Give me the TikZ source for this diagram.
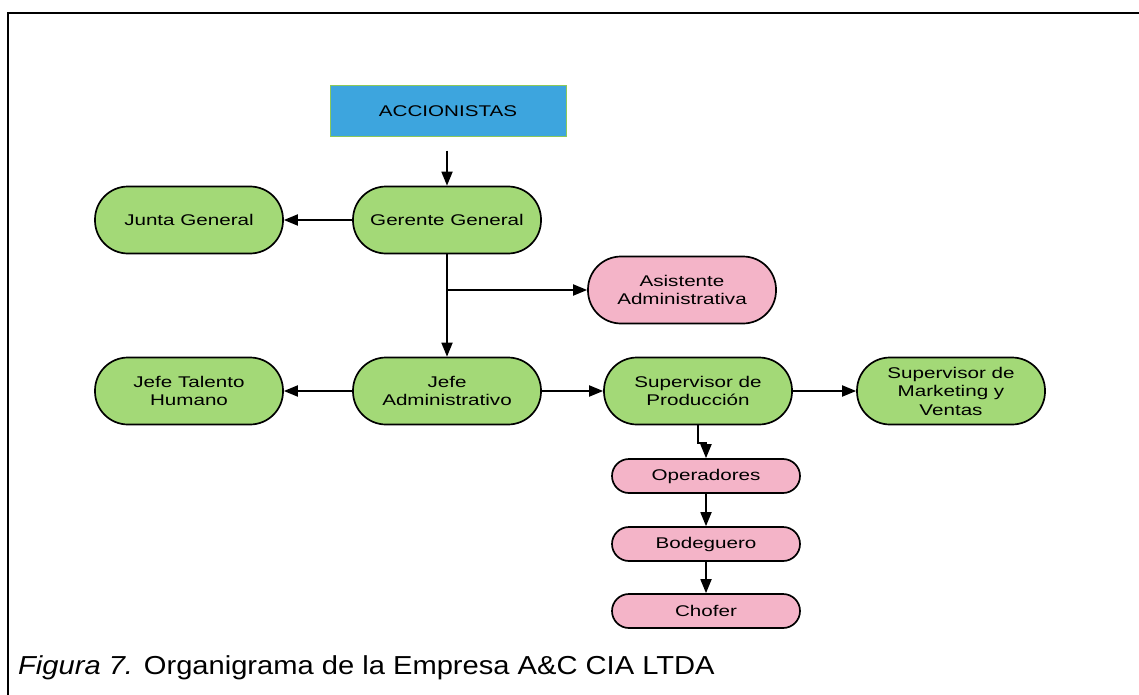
\documentclass[tikz,border=0pt]{standalone}
\usepackage{fontspec}
\setmainfont{Liberation Sans}
\newfontfamily\nodefont[FakeStretch=1.33]{Liberation Sans}
\newfontfamily\capfont[FakeStretch=1.12]{Liberation Sans}
\usetikzlibrary{arrows.meta}
\definecolor{boxgreen}{RGB}{163,217,119}
\definecolor{boxpink}{RGB}{244,180,200}
\definecolor{boxblue}{RGB}{61,165,222}
\definecolor{edgegreen}{RGB}{140,200,90}
\begin{document}
\begin{tikzpicture}[x=1pt,y=-1pt,
  pill/.style={draw=black, line width=1.7pt, rounded corners=33pt,
    minimum width=188pt, minimum height=67pt, inner sep=0pt, align=center,
    font=\nodefont\fontsize{15.5}{18.5}\selectfont},
  greenpill/.style={pill, fill=boxgreen},
  pinkpill/.style={pill, fill=boxpink},
  smallpill/.style={pill, fill=boxpink, minimum height=34pt, rounded corners=17pt},
  topbox/.style={draw=edgegreen, line width=1pt, fill=boxblue,
    minimum width=236pt, minimum height=51pt, inner sep=0pt,
    font=\nodefont\fontsize{15.5}{18.5}\selectfont},
  link/.style={line width=1.8pt, -{Triangle[length=14pt,width=11pt]}},
]
\useasboundingbox (0,0) rectangle (1139,695);
% open frame
\draw[line width=1.6pt] (8,695) -- (8,13) -- (1139,13);

% boxes
\node[topbox] (acc) at (448,111) {ACCIONISTAS};
\node[greenpill] (gg) at (447,220) {Gerente General};
\node[greenpill] (jg) at (189,220) {Junta General};
\node[pinkpill] (asis) at (682,290) {Asistente\\Administrativa};
\node[greenpill] (ja) at (447,391) {Jefe\\Administrativo};
\node[greenpill] (jth) at (189,391) {Jefe Talento\\Humano};
\node[greenpill] (sp) at (698,391) {Supervisor de\\Producción};
\node[greenpill] (smv) at (951,391) {Supervisor de\\Marketing y\\Ventas};
\node[smallpill] (op) at (706,476) {Operadores};
\node[smallpill] (bod) at (706,544) {Bodeguero};
\node[smallpill] (cho) at (706,611) {Chofer};

% connectors
\draw[link] ([yshift=35pt]gg.north) -- (gg.north);
\draw[link] (gg.west) -- (jg.east);
\draw[link] (gg.south) -- (ja.north);
\draw[link] (gg.south |- asis.west) -- (asis.west);
\draw[link] (ja.west) -- (jth.east);
\draw[link] (ja.east) -- (sp.west);
\draw[link] (sp.east) -- (smv.west);
\draw[link] (sp.south) -- ++(0,18) -| (op.north);
\draw[link] (op.south) -- (bod.north);
\draw[link] (bod.south) -- (cho.north);

% caption
\node[anchor=base west, inner sep=0pt, font=\capfont\fontsize{26}{30}\selectfont]
  (cap) at (18,674) {{\itshape Figura 7.} Organigrama de la Empresa A\&C CIA LTDA};
\end{tikzpicture}
\end{document}
